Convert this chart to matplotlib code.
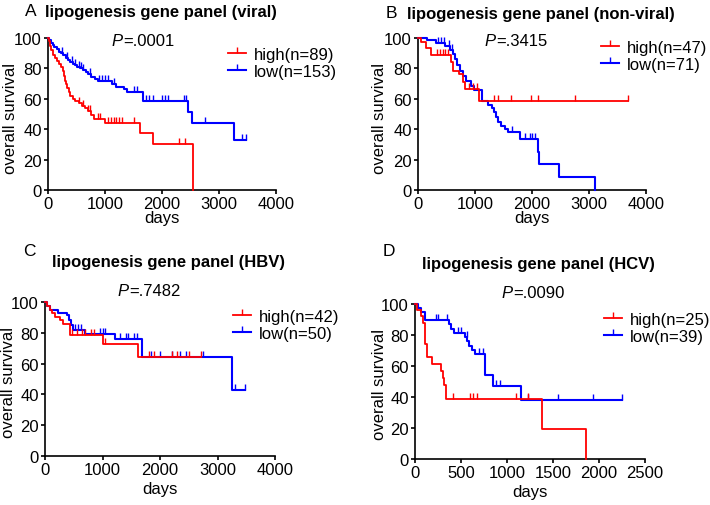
import numpy as np
import matplotlib
matplotlib.use("Agg")
import matplotlib.pyplot as plt
from matplotlib.lines import Line2D

plt.rcParams['font.family'] = ['Liberation Sans', 'DejaVu Sans']
plt.rcParams['font.size'] = 12

# ---------------- data ----------------
# Panel A (viral)
A_high_t = [15, 40, 60, 90, 120, 160, 200, 230, 260, 280, 300, 320, 340, 360, 390, 430, 480, 540, 600, 650, 700, 760, 800, 1000, 1620, 1840, 2540]
A_high_s = [98, 95, 92, 89, 87, 85, 83, 81, 78, 75, 72, 69.5, 67, 64.5, 62, 60, 58.5, 57, 55.5, 54, 52, 49.5, 47, 44, 37.5, 30.5, 0]
A_high_c = [550, 620, 700, 730, 870, 920, 1060, 1110, 1160, 1200, 1250, 1300, 1500, 2300, 2400]
A_high_end = 2540
A_low_t = [20, 50, 80, 110, 150, 190, 230, 270, 310, 350, 390, 430, 470, 510, 560, 610, 660, 700, 760, 820, 880, 1120, 1200, 1330, 1390, 1660, 2460, 2520, 3270]
A_low_s = [98.5, 97, 95.5, 94, 92.5, 91, 90, 88.5, 87, 85.5, 84, 83, 82, 81, 80, 79, 77.5, 76, 74.5, 73, 72, 70, 68, 66.5, 64.5, 58.5, 51, 44, 33]
A_low_c = [250, 330, 420, 480, 540, 580, 620, 740, 900, 950, 1000, 1050, 1150, 1500, 1560, 1720, 1780, 1850, 2000, 2050, 2100, 2380, 2420, 2750, 3400, 3480]
A_low_end = 3480

# Panel B (non-viral)
B_high_t = [60, 140, 230, 580, 610, 720, 790, 830, 1070]
B_high_s = [97.5, 93.5, 89, 84, 78.5, 76, 71, 66.5, 58.8]
B_high_c = [330, 380, 430, 480, 520, 900, 970, 1040, 1330, 1400, 1640, 1990, 2100, 2750, 3680]
B_high_end = 3680
B_low_t = [150, 320, 480, 560, 620, 650, 690, 730, 790, 850, 930, 990, 1130, 1230, 1290, 1330, 1360, 1400, 1460, 1520, 1580, 1790, 2100, 2130, 2470, 3110]
B_low_s = [98.5, 97, 95, 92, 89.5, 86, 82.5, 78.5, 75, 72, 68.5, 65.5, 58.8, 56, 54, 51, 48, 44.5, 42, 40, 38, 33.5, 25, 17, 8.4, 0]
B_low_c = [350, 400, 460, 540, 600, 1650, 1880, 1960, 2000, 2050]
B_low_end = 3110

# Panel C (HBV)
C_high_t = [30, 80, 120, 170, 260, 310, 430, 1010, 1620]
C_high_s = [97.5, 95, 92.8, 90.5, 88, 85.5, 78.5, 73, 64]
C_high_c = [470, 550, 650, 700, 800, 850, 1050, 1800, 1900, 2200, 2300, 2500, 2720]
C_high_end = 2720
C_low_t = [40, 90, 230, 380, 410, 450, 490, 700, 1210, 1690, 3250]
C_low_s = [97.5, 95, 93, 91.5, 88, 85, 82, 79, 76, 64.5, 43]
C_low_c = [530, 580, 620, 950, 1000, 1050, 1300, 1400, 1450, 1550, 1600, 1850, 2000, 2200, 2350, 2450, 2750, 3300, 3480]
C_low_end = 3480

# Panel D (HCV)
D_high_t = [20, 60, 90, 105, 125, 190, 285, 305, 320, 340, 1385, 1855]
D_high_s = [96, 92, 87.5, 74, 65.5, 61, 56.5, 52, 48, 39, 19.5, 0]
D_high_c = [415, 600, 635, 670, 1100, 1230]
D_high_end = 1855
D_low_t = [30, 60, 110, 370, 395, 420, 540, 570, 590, 620, 650, 760, 850, 1150]
D_low_s = [97.4, 94.8, 89.5, 87, 84, 81, 78.5, 76, 73, 70.5, 67.5, 54, 47, 38]
D_low_c = [230, 250, 345, 470, 500, 560, 700, 740, 880, 920, 1230, 1550, 1940, 2250]
D_low_end = 2250

letters = ["A", "B", "C", "D"]
titles = ["lipogenesis gene panel (viral)", "lipogenesis gene panel (non-viral)",
          "lipogenesis gene panel (HBV)", "lipogenesis gene panel (HCV)"]
pvals = ["=.0001", "=.3415", "=.7482", "=.0090"]
high_labels = ["high(n=89)", "high(n=47)", "high(n=42)", "high(n=25)"]
low_labels = ["low(n=153)", "low(n=71)", "low(n=50)", "low(n=39)"]
x_max = [4000, 4000, 4000, 2500]
x_step = [1000, 1000, 1000, 500]

RED = '#ff0000'
BLUE = '#0000ff'

W, H = 710, 506
fig = plt.figure(figsize=(W / 100, H / 100), dpi=100)

def fx(px):
    return px / W

def fy(py):
    return 1 - py / H

# axes boxes in pixels: left, top, right, bottom
boxes = [(48, 39, 276, 191), (418, 39, 646, 191), (45, 303, 275, 457), (415, 305, 645, 460)]
letter_pos = [(31, 12), (391, 13), (29, 252), (389, 252)]
title_pos = [(161, 13), (541, 14), (169, 263), (538, 264)]
p_pos = [(123, 41), (496, 41), (129, 292), (513, 293)]
leg_pos = [(228, 48), (601, 41), (233, 310), (604, 313)]
ylab_x = [11, 379, 9, 379]
ylab_y = [118, 118, 382, 385]
xlab_y = [219, 219, 490, 493]

curves = [
    ((A_high_t, A_high_s, A_high_c, A_high_end), (A_low_t, A_low_s, A_low_c, A_low_end)),
    ((B_high_t, B_high_s, B_high_c, B_high_end), (B_low_t, B_low_s, B_low_c, B_low_end)),
    ((C_high_t, C_high_s, C_high_c, C_high_end), (C_low_t, C_low_s, C_low_c, C_low_end)),
    ((D_high_t, D_high_s, D_high_c, D_high_end), (D_low_t, D_low_s, D_low_c, D_low_end)),
]

def draw_km(ax, t, s, c, end, color, lw):
    x = np.concatenate([[0], np.asarray(t, float), [end]])
    y = np.concatenate([[100], np.asarray(s, float), [s[-1]]])
    ax.step(x, y, where='post', color=color, lw=lw, clip_on=False, zorder=3)
    ct = np.asarray(c, float)
    idx = np.searchsorted(np.asarray(t, float), ct, side='right')
    surv_all = np.concatenate([[100], np.asarray(s, float)])
    cy = surv_all[idx]
    ax.plot(ct, cy, linestyle='none', marker=2, ms=4, mew=1.0, color=color, clip_on=False, zorder=3)

for i in range(4):
    l, t, r, b = boxes[i]
    ax = fig.add_axes([fx(l), fy(b), fx(r - l), (b - t) / H])
    (ht, hs, hc, he), (lt, ls, lc, le) = curves[i]
    draw_km(ax, lt, ls, lc, le, BLUE, 1.5)
    draw_km(ax, ht, hs, hc, he, RED, 1.3)
    ax.set_xlim(0, x_max[i])
    ax.set_ylim(0, 100)
    ax.set_xticks(np.arange(0, x_max[i] + 1, x_step[i]))
    ax.set_yticks(np.arange(0, 101, 20))
    for sp in ['top', 'right']:
        ax.spines[sp].set_visible(False)
    for sp in ['left', 'bottom']:
        ax.spines[sp].set_linewidth(1.2)
    ax.tick_params(axis='both', length=3, width=1.2, labelsize=12, pad=1.5)

    xl = ax.set_xlabel('days', fontsize=12)
    xl.set_va('center')
    ax.xaxis.set_label_coords(0.5, -(xlab_y[i] - b) / (b - t))
    yl = ax.set_ylabel('overall survival', fontsize=12)
    yl.set_va('center')
    yl.set_ha('center')
    ax.yaxis.set_label_coords((ylab_x[i] - l) / (r - l), (b - ylab_y[i]) / (b - t))

    # panel letter and title
    lx, ly = letter_pos[i]
    fig.text(fx(lx), fy(ly), letters[i], fontsize=12.5, ha='center', va='center')
    tx, ty = title_pos[i]
    fig.text(fx(tx), fy(ty), titles[i], fontsize=12, fontweight='bold', ha='center', va='center')
    # P value
    px, py = p_pos[i]
    fig.text(fx(px), fy(py), 'P', fontsize=12, fontstyle='italic', ha='right', va='center')
    fig.text(fx(px), fy(py), pvals[i], fontsize=12, ha='left', va='center')

    # legend
    handles = [Line2D([], [], color=RED, lw=1.3, marker=2, ms=4, mew=1.0),
               Line2D([], [], color=BLUE, lw=1.5, marker=2, ms=4, mew=1.0)]
    gx, gy = leg_pos[i]
    ax.legend(handles, [high_labels[i], low_labels[i]], loc='upper left',
              bbox_to_anchor=(fx(gx), fy(gy)), bbox_transform=fig.transFigure,
              frameon=False, handlelength=1.1, handletextpad=0.45, labelspacing=0.1,
              borderpad=0, borderaxespad=0, fontsize=12, numpoints=1)

fig.savefig('out.png', dpi=100)
